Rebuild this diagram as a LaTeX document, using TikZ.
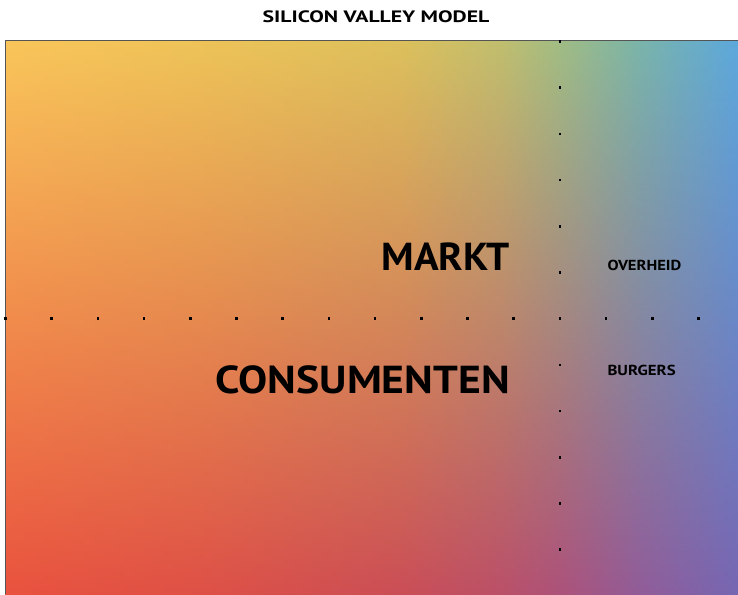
\documentclass[tikz,border=0pt]{standalone}
\usepackage{fontspec}
\setmainfont{PT Sans}
\definecolor{t0}{RGB}{249,197,90}
\definecolor{t1}{RGB}{237,195,88}
\definecolor{t2}{RGB}{220,192,92}
\definecolor{t3}{RGB}{192,190,110}
\definecolor{t4}{RGB}{160,188,132}
\definecolor{t5}{RGB}{122,180,170}
\definecolor{t6}{RGB}{92,168,220}
\definecolor{b0}{RGB}{233,82,62}
\definecolor{b1}{RGB}{222,80,70}
\definecolor{b2}{RGB}{202,78,86}
\definecolor{b3}{RGB}{186,80,104}
\definecolor{b4}{RGB}{172,82,122}
\definecolor{b5}{RGB}{145,92,152}
\definecolor{b6}{RGB}{118,102,178}
\definecolor{framegray}{RGB}{85,85,85}
\tikzset{
  bigword/.style={font=\fontsize{39}{39}\selectfont\bfseries, inner sep=0pt, text=black},
  smallword/.style={font=\fontsize{14.5}{14.5}\selectfont\bfseries, inner sep=0pt, text=black},
  titleword/.style={font=\fontsize{16.5}{16.5}\selectfont\bfseries, inner sep=0pt, text=black},
  griddot/.style={fill=black},
}
\begin{document}
\begin{tikzpicture}[x=1pt,y=-1pt]
\useasboundingbox (0,0) rectangle (738,594);
\fill[white] (0,0) rectangle (738,594);
% gradient field
\foreach \xa/\xb/\ta/\tb/\ba/\bb in {0/200/t0/t1/b0/b1, 200/400/t1/t2/b1/b2, 400/500/t2/t3/b2/b3, 500/560/t3/t4/b3/b4, 560/640/t4/t5/b4/b5, 640/738/t5/t6/b5/b6}{
  \foreach \k in {0,...,19}{
    \pgfmathsetmacro\p{(\k+0.5)*5}
    \pgfmathsetmacro\xl{5+(\xa+(\xb-\xa)*\k/20)*0.99322}
    \pgfmathsetmacro\xr{5+(\xa+(\xb-\xa)*(\k+1)/20)*0.99322+0.7}
    \colorlet{tc}{\tb!\p!\ta}
    \colorlet{bc}{\bb!\p!\ba}
    \shade[top color=tc,bottom color=bc] (\xl,41) rectangle (\xr,594);
  }
}
\draw[framegray, line width=1pt] (5,594) -- (5,41) -- (738,41);
% dotted axes
\foreach \k in {0,...,11}{
  \fill[griddot] (560-1.3,41.5+46.2*\k-1.3) rectangle (560+1.3,41.5+46.2*\k+1.3);
}
\foreach \k in {0,...,15}{
  \fill[griddot] (5.5+46.2*\k-1.3,318.7-1.3) rectangle (5.5+46.2*\k+1.3,318.7+1.3);
}
% texts
\node[titleword, anchor=base, xscale=1.32] (title) at (376,22.5) {SILICON VALLEY MODEL};
\node[bigword, anchor=base east, xscale=1.046] (markt) at (510,270.7) {MARKT};
\node[bigword, anchor=base east, xscale=1.12] (consumenten) at (510,393.3) {CONSUMENTEN};
\node[smallword, anchor=base west, xscale=1.14] (overheid) at (607.3,270.7) {OVERHEID};
\node[smallword, anchor=base west, xscale=1.16] (burgers) at (607.3,375.7) {BURGERS};
\end{tikzpicture}
\end{document}
